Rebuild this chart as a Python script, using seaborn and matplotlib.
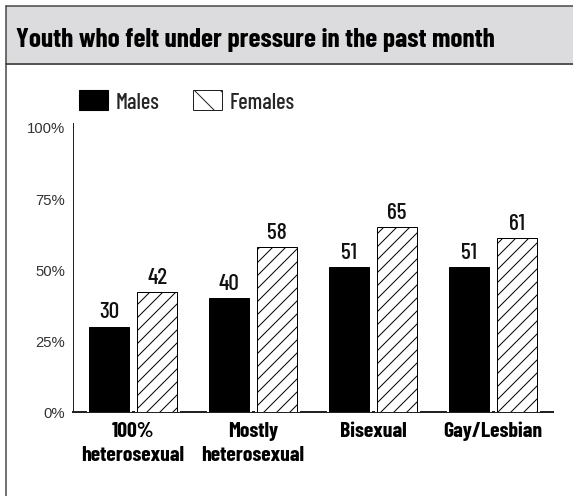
import matplotlib
matplotlib.use("Agg")
import matplotlib.pyplot as plt
import matplotlib.patheffects as pe
import matplotlib.transforms as mtrans
from matplotlib.patches import Patch, Rectangle
from matplotlib.lines import Line2D
import seaborn as sns
import pandas as pd

categories = ["100%\nheterosexual", "Mostly\nheterosexual", "Bisexual", "Gay/Lesbian"]
series_names = ["Males", "Females"]
males = [30, 40, 51, 51]
females = [42, 58, 65, 61]
y_ticks = [0, 25, 50, 75, 100]
y_tick_labels = ["0%", "25%", "50%", "75%", "100%"]
title = "Youth who felt under pressure in the past month"

DPI = 78
W, H = 573, 497
P = 72 / DPI  # px -> pt

sns.set_theme(style="white")
COND = ["Barlow Condensed", "DejaVu Sans"]
REG = ["Liberation Sans", "DejaVu Sans"]
plt.rcParams["font.family"] = COND
plt.rcParams["hatch.linewidth"] = 1.0 * P

df = pd.DataFrame({
    "group": categories * 2,
    "sex": [series_names[0]] * 4 + [series_names[1]] * 4,
    "value": males + females,
})

fig = plt.figure(figsize=(W / DPI, H / DPI), dpi=DPI)
fig.patch.set_facecolor("white")
renderer = fig.canvas.get_renderer()


def fit_size(s, target_px, **kw):
    t = fig.text(0, 0, s, fontsize=20, **kw)
    w = t.get_window_extent(renderer).width
    t.remove()
    return 20 * target_px / w


# title band and frame
fig.patches.append(Rectangle((6 / W, 1 - 65 / H), 1.0, (65 - 7) / H,
                             transform=fig.transFigure, facecolor="#dcdcde",
                             edgecolor="none", zorder=0))
fig.lines.append(Line2D([6 / W, 1], [1 - 7 / H, 1 - 7 / H], transform=fig.transFigure,
                        color="#444444", lw=1.5 * P))
fig.lines.append(Line2D([6 / W, 1], [1 - 65 / H, 1 - 65 / H], transform=fig.transFigure,
                        color="#555555", lw=2 * P))
fig.lines.append(Line2D([6 / W, 6 / W], [0, 1 - 7 / H], transform=fig.transFigure,
                        color="#444444", lw=1.5 * P))
title_fs = fit_size(title, 479, fontweight="bold")
fig.text(16 / W, 1 - 47 / H, title, fontsize=title_fs, fontweight="bold",
         color="black", ha="left", va="baseline")

ax = fig.add_axes([73 / W, 1 - 413 / H, (553 - 73) / W, (413 - 124) / H])
sns.barplot(data=df, x="group", y="value", hue="sex", palette=["black", "white"],
            width=0.8, gap=0.15, legend=False, ax=ax, errorbar=None,
            edgecolor="black", linewidth=1 * P)

for i, bar in enumerate(ax.patches[:8]):
    bar.set_zorder(3)
    bar.set_path_effects([pe.Stroke(linewidth=5 * P, foreground="white"), pe.Normal()])
    if i >= 4:
        bar.set_hatch("//")
        bar.set_facecolor("white")

val_fs = fit_size("42", 20, fontweight=500)
for cont in ax.containers:
    ax.bar_label(cont, padding=5 * P, fontsize=val_fs, fontweight=500, color="#111111")

ax.set_xlim(-0.5, 3.5)
ax.set_ylim(0, 100 * (413 - 124) / (413 - 128))
ax.set_yticks(y_ticks)
tick_fs = fit_size("100%", 38, family=REG)
ax.set_yticklabels(y_tick_labels, fontsize=tick_fs, color="#333333", family=REG)
for k, lab in enumerate(ax.get_yticklabels()):
    dy = -3 if k < 4 else 6
    lab.set_transform(lab.get_transform()
                      + mtrans.ScaledTranslation(0, dy / DPI, fig.dpi_scale_trans))
ax.tick_params(axis="y", length=0, pad=8 * P)
ax.tick_params(axis="x", length=0, pad=9 * P)
cat_fs = fit_size("heterosexual", 103, fontweight="bold")
for lab in ax.get_xticklabels():
    lab.set_fontsize(cat_fs)
    lab.set_fontweight("bold")
    lab.set_color("black")
    lab.set_linespacing(1.35)
    lab.set_va("top")
ax.set_xlabel("")
ax.set_ylabel("")
for s in ["top", "right"]:
    ax.spines[s].set_visible(False)
ax.spines["left"].set_color("#222222")
ax.spines["left"].set_linewidth(1 * P)
ax.spines["bottom"].set_color("#222222")
ax.spines["bottom"].set_linewidth(2 * P)
ax.spines["bottom"].set_zorder(2.5)
ax.grid(False)

leg_fs = fit_size("Females", 65, fontweight=500)
leg_px = leg_fs / P
handles = [Patch(facecolor="black", edgecolor="black", label=series_names[0]),
           Patch(facecolor="white", edgecolor="#222222", hatch="\\", lw=1 * P,
                 label=series_names[1])]
leg = fig.legend(handles=handles, loc="upper left", bbox_to_anchor=(79 / W, 1 - 91 / H),
                 ncol=2, frameon=False, fontsize=leg_fs, handlelength=29 / leg_px,
                 handleheight=22 / leg_px, handletextpad=8 / leg_px,
                 columnspacing=33 / leg_px, borderaxespad=0, borderpad=0)
for t in leg.get_texts():
    t.set_fontweight(500)

fig.savefig("out.png", dpi=DPI)
